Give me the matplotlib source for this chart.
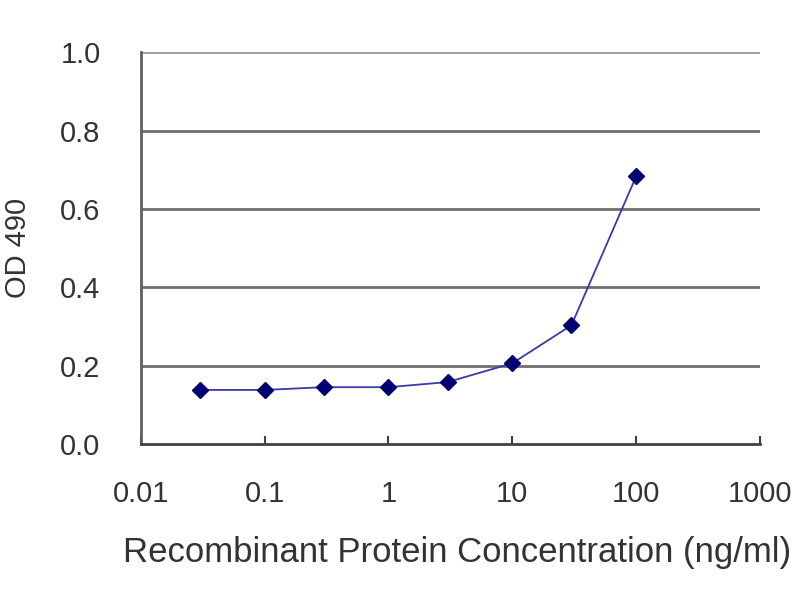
import matplotlib
matplotlib.use("Agg")
import matplotlib.pyplot as plt

# concentration (ng/ml) and OD 490
conc = [0.03, 0.1, 0.3, 1, 3, 10, 30, 100]
od490 = [0.138, 0.138, 0.145, 0.145, 0.158, 0.206, 0.303, 0.683]

xticks = [0.01, 0.1, 1, 10, 100, 1000]
xticklabels = ["0.01", "0.1", "1", "10", "100", "1000"]
yticks = [0.0, 0.2, 0.4, 0.6, 0.8, 1.0]
yticklabels = ["0.0", "0.2", "0.4", "0.6", "0.8", "1.0"]

plt.rcParams["font.family"] = ["Liberation Sans", "DejaVu Sans"]

fig = plt.figure(figsize=(8, 6), dpi=100)
ax = fig.add_axes([0.176, 0.26, 0.774, 0.653])

ax.plot(conc, od490, color="#3a3aa8", linewidth=1.3, marker="D",
        markersize=8, markerfacecolor="#000070", markeredgecolor="#000070", zorder=3)

ax.set_xscale("log")
ax.set_xlim(0.01, 1000)
ax.set_ylim(0, 1.0)
ax.set_xticks(xticks)
ax.set_xticklabels(xticklabels)
ax.minorticks_off()
ax.set_yticks(yticks)
ax.set_yticklabels(yticklabels)

for y in yticks[1:]:
    c = "#9a9a9a" if y == 1.0 else "#707070"
    ax.axhline(y, color=c, linewidth=2, zorder=1)

for s in ["top", "right"]:
    ax.spines[s].set_visible(False)
ax.spines["left"].set_color("#606060")
ax.spines["bottom"].set_color("#404040")
ax.spines["left"].set_linewidth(2)
ax.spines["bottom"].set_linewidth(2)

ax.tick_params(axis="x", direction="in", length=6, width=1.5, color="#404040",
               labelsize=21, labelcolor="#333333", pad=26)
ax.tick_params(axis="y", direction="in", length=0, labelsize=21,
               labelcolor="#333333", pad=29)

xl = ax.set_xlabel("Recombinant Protein Concentration (ng/ml)", fontsize=25,
                   color="#333333", labelpad=18)
ax.xaxis.set_label_coords(0.51, -0.235)
ax.set_ylabel("OD 490", fontsize=21, color="#333333", labelpad=20)

fig.savefig("out.png", dpi=100)
